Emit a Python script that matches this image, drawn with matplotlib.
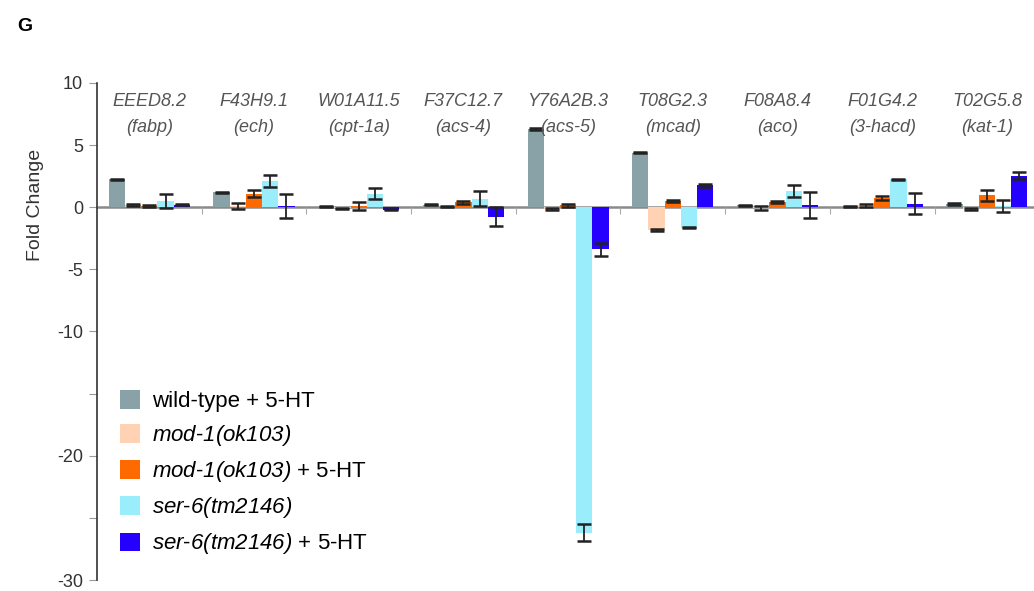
import matplotlib.pyplot as plt
import numpy as np

plt.rcParams['font.family'] = 'Liberation Sans'
plt.rcParams['mathtext.fontset'] = 'custom'
plt.rcParams['mathtext.rm'] = 'Liberation Sans:italic'
plt.rcParams['mathtext.it'] = 'Liberation Sans:italic'
plt.rcParams['axes.unicode_minus'] = False

genes = ['EEED8.2', 'F43H9.1', 'W01A11.5', 'F37C12.7', 'Y76A2B.3',
         'T08G2.3', 'F08A8.4', 'F01G4.2', 'T02G5.8']
names = ['fabp', 'ech', 'cpt-1a', 'acs-4', 'acs-5', 'mcad', 'aco', '3-hacd', 'kat-1']

# italic parts go through mathtext (rm font is set to italic above)
series = ['wild-type + 5-HT',
          r'$\mathrm{mod}$-$\mathrm{1(ok103)}$',
          r'$\mathrm{mod}$-$\mathrm{1(ok103)}$ + 5-HT',
          r'$\mathrm{ser}$-$\mathrm{6(tm2146)}$',
          r'$\mathrm{ser}$-$\mathrm{6(tm2146)}$ + 5-HT']
colors = ['#88a2a8', '#ffd2b4', '#ff6a00', '#9aeefc', '#2600ff']

wt_ht = [2.25, 1.2, 0.05, 0.2, 6.3, 4.4, 0.15, 0.05, 0.3]
wt_ht_err = [0.05, 0.05, 0.03, 0.05, 0.05, 0.05, 0.05, 0.03, 0.08]
mod1 = [0.15, 0.1, -0.1, 0.05, -0.15, -1.8, -0.05, 0.15, -0.15]
mod1_err = [0.08, 0.25, 0.05, 0.05, 0.05, 0.08, 0.15, 0.1, 0.05]
mod1_ht = [0.1, 1.1, 0.1, 0.4, 0.15, 0.5, 0.4, 0.75, 0.95]
mod1_ht_err = [0.05, 0.3, 0.33, 0.1, 0.15, 0.1, 0.08, 0.15, 0.45]
ser6 = [0.5, 2.1, 1.1, 0.7, -26.2, -1.65, 1.3, 2.25, 0.1]
ser6_err = [0.6, 0.5, 0.45, 0.6, 0.7, 0.05, 0.45, 0.05, 0.52]
ser6_ht = [0.2, 0.1, -0.2, -0.75, -3.4, 1.75, 0.15, 0.3, 2.55]
ser6_ht_err = [0.05, 1.0, 0.05, 0.8, 0.5, 0.1, 1.05, 0.85, 0.25]

values = [wt_ht, mod1, mod1_ht, ser6, ser6_ht]
errors = [wt_ht_err, mod1_err, mod1_ht_err, ser6_err, ser6_ht_err]

fig = plt.figure(figsize=(10.34, 5.91), dpi=100)
ax = fig.add_axes([0.0938, 0.0186, 0.9062, 0.841])

x = np.arange(len(genes)) + 0.5
w = 0.155
handles = []
for i, (vals, errs) in enumerate(zip(values, errors)):
    pos = x + (i - 2) * w
    b = ax.bar(pos, vals, width=w, color=colors[i], zorder=2, label=series[i])
    ax.errorbar(pos, vals, yerr=errs, fmt='none', ecolor='#222222',
                elinewidth=1.3, capsize=5, capthick=1.8, zorder=3)
    handles.append(b)

for xi, g, n in zip(x, genes, names):
    ax.text(xi, 8.5, g, ha='center', va='center', style='italic',
            fontsize=13, color='#555555')
    ax.text(xi, 6.4, '(' + n + ')', ha='center', va='center', style='italic',
            fontsize=13, color='#555555')

ax.set_xlim(0, 8.95)
ax.set_ylim(-30, 10)
ax.set_yticks([10, 5, 0, -5, -10, -15, -20, -25, -30])
ax.set_yticklabels(['10', '5', '0', '-5', '-10', '', '-20', '', '-30'])
ax.set_xticks(np.arange(1, len(genes)))
ax.set_xticklabels([])

ax.spines['top'].set_visible(False)
ax.spines['right'].set_visible(False)
ax.spines['bottom'].set_position(('data', 0))
ax.spines['bottom'].set_color('#8a8a8a')
ax.spines['bottom'].set_linewidth(1.8)
ax.spines['bottom'].set_zorder(1)
ax.spines['left'].set_color('#333333')
ax.spines['left'].set_linewidth(1.2)
ax.tick_params(axis='x', direction='out', length=5, color='#aaaaaa')
ax.tick_params(axis='y', direction='out', length=6, color='#999999',
               labelsize=13, labelcolor='#333333', pad=4)

ax.set_ylabel('Fold Change', fontsize=14, color='#333333')
ax.yaxis.set_label_coords(-0.057, 0.755)

ax.legend(handles=handles, labels=series, loc='upper left',
          bbox_to_anchor=(0.116, 0.34), bbox_transform=fig.transFigure,
          frameon=False, fontsize=16, handlelength=0.9, handleheight=0.9,
          handletextpad=0.55, labelspacing=0.5, borderpad=0, borderaxespad=0)

fig.text(0.017, 0.955, 'G', fontsize=14, fontweight='bold', va='center')

fig.savefig('out.png', dpi=100)
